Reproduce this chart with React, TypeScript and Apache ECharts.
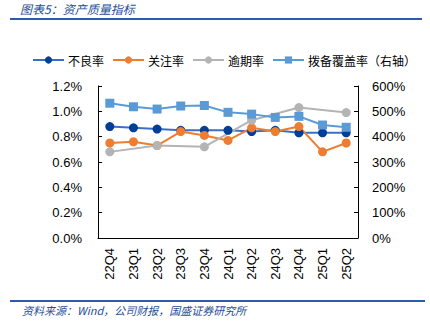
import React, { useEffect, useRef } from "react";
import * as echarts from "echarts";

const categories = ["22Q4", "23Q1", "23Q2", "23Q3", "23Q4", "24Q1", "24Q2", "24Q3", "24Q4", "25Q1", "25Q2"];
const nplRatio = [0.88, 0.87, 0.86, 0.85, 0.85, 0.85, 0.84, 0.85, 0.83, 0.83, 0.83];
const attentionRatio = [0.75, 0.76, 0.73, 0.84, 0.81, 0.77, 0.87, 0.84, 0.88, 0.68, 0.75];
const overdueRatio = [0.68, null, 0.73, null, 0.72, null, 0.93, null, 1.03, null, 0.99];
const coverageRatio = [532, 518, 509, 521, 523, 496, 489, 476, 480, 446, 437];
const leftTicks = { min: 0, max: 1.2, interval: 0.2 };
const rightTicks = { min: 0, max: 600, interval: 100 };

const FONT = "'Liberation Sans', Arial, 'Noto Sans CJK SC', sans-serif";
const CJK = "'Noto Sans CJK SC', sans-serif";
const BLUE_TXT = "#1F4E9A";

export default function App() {
  const ref = useRef<HTMLDivElement>(null);
  useEffect(() => {
    if (!ref.current) return;
    const chart = echarts.init(ref.current, null, { renderer: "svg" });
    const axisLabel = { color: "#000", fontSize: 13, fontFamily: FONT };
    chart.setOption({
      animation: false,
      backgroundColor: "#fff",
      grid: { left: 98, right: 72, top: 86, bottom: 92, containLabel: false },
      legend: {
        left: 27,
        top: 49,
        itemWidth: 31,
        itemHeight: 9,
        itemGap: 8,
        textStyle: { fontSize: 12, fontFamily: CJK, color: "#000", padding: [0, 0, 0, -1] },
        data: ["不良率", "关注率", "逾期率", "拨备覆盖率（右轴）"],
      },
      xAxis: {
        type: "category",
        data: categories,
        boundaryGap: true,
        axisLine: { lineStyle: { color: "#000", width: 1 } },
        axisTick: { inside: true, length: 8, lineStyle: { color: "#000" } },
        axisLabel: { ...axisLabel, rotate: 90, margin: 10, interval: 0 },
      },
      yAxis: [
        {
          type: "value",
          ...leftTicks,
          axisLine: { show: true, lineStyle: { color: "#000" } },
          axisTick: { show: true, inside: true, length: 4, lineStyle: { color: "#000" } },
          splitLine: { show: false },
          axisLabel: { ...axisLabel, margin: 16, formatter: (v: number) => v.toFixed(1) + "%" },
        },
        {
          type: "value",
          ...rightTicks,
          axisLine: { show: true, lineStyle: { color: "#000" } },
          axisTick: { show: true, inside: true, length: 4, lineStyle: { color: "#000" } },
          splitLine: { show: false },
          axisLabel: { ...axisLabel, margin: 14, formatter: (v: number) => v + "%" },
        },
      ],
      series: [
        {
          name: "不良率",
          type: "line",
          data: nplRatio,
          symbol: "circle",
          symbolSize: 9,
          lineStyle: { color: "#3A6FC8", width: 2 },
          itemStyle: { color: "#003F98" },
        },
        {
          name: "关注率",
          type: "line",
          data: attentionRatio,
          symbol: "circle",
          symbolSize: 9,
          lineStyle: { color: "#ED7D31", width: 2 },
          itemStyle: { color: "#ED7D31" },
        },
        {
          name: "逾期率",
          type: "line",
          data: overdueRatio,
          connectNulls: true,
          symbol: "circle",
          symbolSize: 9,
          lineStyle: { color: "#B4B4B4", width: 2 },
          itemStyle: { color: "#B4B4B4" },
        },
        {
          name: "拨备覆盖率（右轴）",
          type: "line",
          yAxisIndex: 1,
          data: coverageRatio,
          symbol: "rect",
          symbolSize: 9,
          lineStyle: { color: "#5B9BD5", width: 2 },
          itemStyle: { color: "#5B9BD5" },
        },
      ],
      graphic: [
        {
          type: "text",
          left: 20,
          top: 2,
          style: { text: "图表5：资产质量指标", fontSize: 12, fontStyle: "italic", fontFamily: CJK, fill: BLUE_TXT },
        },
        {
          type: "line",
          shape: { x1: 10, y1: 19, x2: 422, y2: 19 },
          style: { stroke: "#2A5CAA", lineWidth: 2 },
        },
        {
          type: "line",
          shape: { x1: 10, y1: 301, x2: 425, y2: 301 },
          style: { stroke: "#2A5CAA", lineWidth: 2 },
        },
        {
          type: "text",
          left: 22,
          top: 304,
          style: { text: "资料来源：Wind，公司财报，国盛证券研究所", fontSize: 11, fontStyle: "italic", fontFamily: CJK, fill: BLUE_TXT },
        },
      ],
    });
    return () => chart.dispose();
  }, []);
  return <div ref={ref} style={{ position: "fixed", left: 0, top: 0, width: 430, height: 330 }} />;
}
